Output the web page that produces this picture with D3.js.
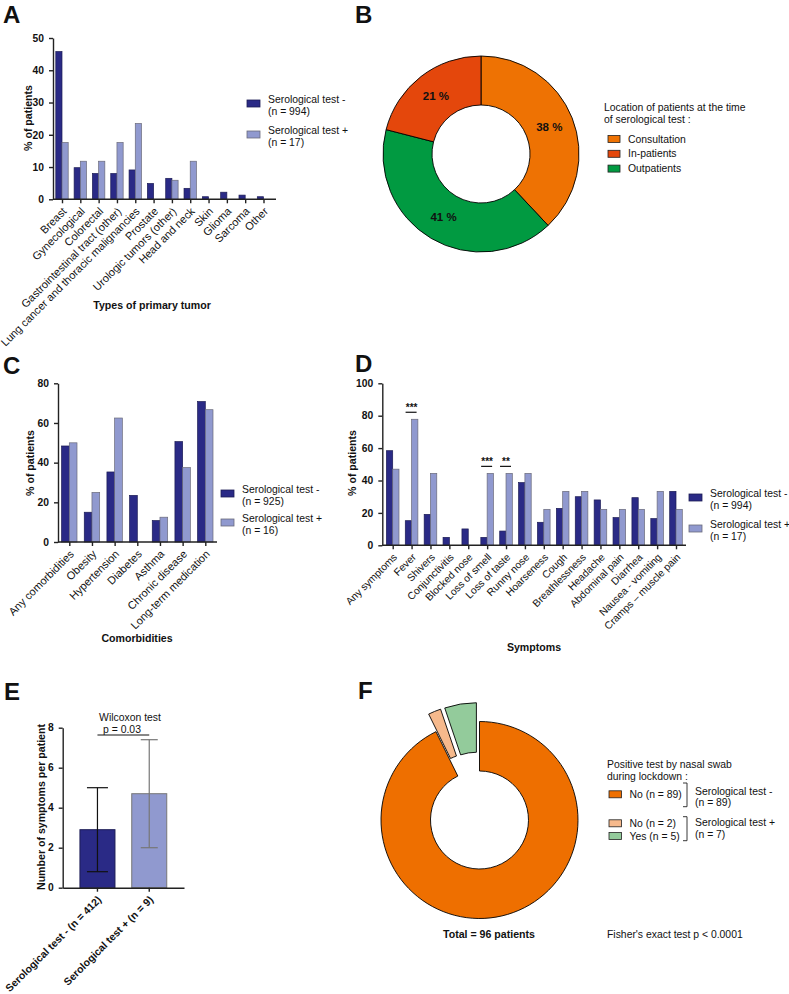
<!DOCTYPE html>
<html><head><meta charset="utf-8">
<script src="https://cdn.jsdelivr.net/npm/d3@7/dist/d3.min.js"></script>
<style>
body{margin:0;background:#fff}
svg text{font-family:"Liberation Sans",Arial,sans-serif;fill:#111}
</style>
</head><body>
<svg id="fig" width="789" height="994"></svg>
<script>
// ---------------- DATA ----------------
const seriesNames = ["Serological test -", "Serological test +"];

const tumorCats = ["Breast","Gynecological","Colorectal","Gastrointestinal tract (other)","Lung cancer and thoracic malignancies","Prostate","Urologic tumors (other)","Head and neck","Skin","Glioma","Sarcoma","Other"];
const tumorNeg = [45.8, 9.8, 8.0, 8.0, 9.1, 4.9, 6.5, 3.4, 0.8, 2.2, 1.3, 0.8];
const tumorPos = [17.6, 11.8, 11.8, 17.6, 23.5, 0, 5.9, 11.8, 0, 0, 0, 0];
const tumorN = ["(n = 994)", "(n = 17)"];
const tumorTicks = [0, 10, 20, 30, 40, 50];

const comorbCats = ["Any comorbidities","Obesity","Hypertension","Diabetes","Asthma","Chronic disease","Long-term medication"];
const comorbNeg = [48.4, 15.0, 35.3, 23.5, 10.8, 50.6, 70.8];
const comorbPos = [50.0, 25.0, 62.5, 0, 12.5, 37.5, 66.7];
const comorbN = ["(n = 925)", "(n = 16)"];
const comorbTicks = [0, 20, 40, 60, 80];

const symCats = ["Any symptoms","Fever","Shivers","Conjunctivitis","Blocked nose","Loss of smell","Loss of taste","Runny nose","Hoarseness","Cough","Breathlessness","Headache","Abdominal pain","Diarrhea","Nausea - vomiting","Cramps \u2013 muscle pain"];
const symNeg = [58.4, 15.2, 19.1, 4.9, 10.1, 4.9, 8.8, 38.7, 14.2, 22.8, 30.0, 28.0, 17.1, 29.4, 16.5, 33.3];
const symPos = [47.0, 77.8, 44.4, 0, 0, 44.4, 44.4, 44.4, 22.2, 33.3, 33.3, 22.2, 22.2, 22.2, 33.3, 22.2];
const symN = ["(n = 994)", "(n = 17)"];
const symTicks = [0, 20, 40, 60, 80, 100];
const sigCats = ["Fever", "Loss of smell", "Loss of taste"];
const sigLabels = ["***", "***", "**"];

const locLabels = ["Consultation", "Outpatients", "In-patients"];
const locValues = [38, 41, 21];
const locLegendOrder = ["Consultation", "In-patients", "Outpatients"];

const countGroups = ["Serological test - (n = 412)", "Serological test + (n = 9)"];
const countMeans = [2.9, 4.7];
const countLow = [0.8, 2.0];
const countHigh = [5.0, 7.4];
const countTicks = [0, 2, 4, 6, 8];

const swabLabels = ["No (n = 89)", "No (n = 2)", "Yes (n = 5)"];
const swabValues = [89, 2, 5];
const swabExploded = [false, true, true];
const swabGroups = [["Serological test -", "(n = 89)"], ["Serological test +", "(n = 7)"]];

// ---------------- STYLE ----------------
const C_DARK = "#2a2a86", C_LIGHT = "#9099cf";
const STROKE_DARK = "#1c1c55", STROKE_LIGHT = "#6a6a7a";
const locColors = {"Consultation":"#ee7203","In-patients":"#e4470c","Outpatients":"#019a41"};
const swabColors = ["#ee6f00", "#f6b98c", "#93cb9b"];
const AX = "#222";

const svg = d3.select("#fig");

function panelLetter(t, x, y){
  svg.append("text").attr("x", x).attr("y", y).attr("font-size", 24).attr("font-weight", "bold").text(t);
}

function styleAxis(g){
  g.selectAll(".domain").attr("stroke", AX).attr("stroke-width", 1.4);
  g.selectAll(".tick line").attr("stroke", AX).attr("stroke-width", 1.4);
}

function legend2(x, y, gap){
  const colors = [C_DARK, C_LIGHT], strokes = [STROKE_DARK, STROKE_LIGHT];
  return function(nLabels){
    nLabels.forEach((n, i) => {
      const g = svg.append("g").attr("transform", `translate(${x},${y + i*gap})`);
      g.append("rect").attr("x", 0).attr("y", -3.5).attr("width", 13).attr("height", 7)
        .attr("fill", colors[i]).attr("stroke", strokes[i]).attr("stroke-width", 0.8);
      g.append("text").attr("x", 21).attr("y", -4.5).attr("dy", "0.35em").attr("font-size", 10.4).text(seriesNames[i]);
      g.append("text").attr("x", 21).attr("y", 7.5).attr("dy", "0.35em").attr("font-size", 10.4).text(n);
    });
  };
}

function groupedBars(o){
  const x = d3.scalePoint().domain(o.cats).range(o.centers);
  const y = d3.scaleLinear().domain([0, o.ymax]).range(o.yRange);
  const g = svg.append("g");
  const data = o.cats.map((c, i) => ({c, a: o.neg[i], b: o.pos[i]}));
  g.selectAll("rect.neg").data(data).join("rect")
    .attr("x", d => x(d.c) - o.bw).attr("width", o.bw)
    .attr("y", d => y(d.a)).attr("height", d => y(0) - y(d.a))
    .attr("fill", C_DARK).attr("stroke", STROKE_DARK).attr("stroke-width", 0.7);
  g.selectAll("rect.pos").data(data.filter(d => d.b > 0)).join("rect")
    .attr("x", d => x(d.c)).attr("width", o.bw)
    .attr("y", d => y(d.b)).attr("height", d => y(0) - y(d.b))
    .attr("fill", C_LIGHT).attr("stroke", STROKE_LIGHT).attr("stroke-width", 0.7);
  const ya = g.append("g").attr("transform", `translate(${o.axisX[0]},0)`)
    .call(d3.axisLeft(y).tickValues(o.ticks).tickSize(4).tickSizeOuter(0).tickPadding(5));
  ya.selectAll("text").attr("font-size", 10.3).attr("font-weight", "bold").attr("fill", "#111");
  styleAxis(ya);
  const xa = g.append("g").attr("transform", `translate(0,${o.yRange[0]})`)
    .call(d3.axisBottom(x).tickSize(4).tickSizeOuter(0));
  xa.select(".domain").remove();
  xa.append("line").attr("x1", o.axisX[0]).attr("x2", o.axisX[1]).attr("stroke", AX).attr("stroke-width", 1.4);
  xa.selectAll(".tick line").attr("stroke", AX).attr("stroke-width", 1.4);
  xa.selectAll(".tick text")
    .attr("text-anchor", "end").attr("font-size", o.fs).attr("fill", "#111")
    .attr("x", 0).attr("y", 0).attr("dy", "0.35em")
    .attr("transform", `translate(2,10) rotate(-45)`);
  svg.append("text").attr("transform", `translate(${o.ylabX},${o.ylabY}) rotate(-90)`)
    .attr("text-anchor", "middle").attr("font-size", 10.6).attr("font-weight", "bold").text("% of patients");
  svg.append("text").attr("x", o.xtitle[1]).attr("y", o.xtitle[2]).attr("text-anchor", "middle")
    .attr("font-size", 10.6).attr("font-weight", "bold").text(o.xtitle[0]);
  return {x, y, g};
}

// ---------------- PANEL A ----------------
panelLetter("A", 3, 23);
groupedBars({cats: tumorCats, neg: tumorNeg, pos: tumorPos, centers: [62, 263.5], bw: 6.2,
  ymax: 50, yRange: [199.3, 38], ticks: tumorTicks, axisX: [53, 276], fs: 11,
  ylabX: 32, ylabY: 118, xtitle: ["Types of primary tumor", 152, 309]});
legend2(247, 103.5, 31)(tumorN);

// ---------------- PANEL B ----------------
panelLetter("B", 355, 23);
(function(){
  const cx = 481, cy = 154;
  const pie = d3.pie().sort(null).value(d => d.v);
  const arcs = pie(locLabels.map((l, i) => ({l, v: locValues[i]})));
  const arc = d3.arc().innerRadius(49).outerRadius(98);
  const lab = d3.arc().innerRadius(73.5).outerRadius(73.5);
  const g = svg.append("g").attr("transform", `translate(${cx},${cy})`);
  g.selectAll("path").data(arcs).join("path").attr("d", arc)
    .attr("fill", d => locColors[d.data.l]).attr("stroke", "#000").attr("stroke-width", 0.9);
  g.selectAll("text").data(arcs).join("text")
    .attr("transform", d => `translate(${lab.centroid(d)})`)
    .attr("text-anchor", "middle").attr("dy", "0.35em").attr("font-size", 11.5).attr("font-weight", "bold")
    .text(d => d.data.v + " %");
  const lg = svg.append("g").attr("transform", "translate(604,0)");
  lg.append("text").attr("x", 0).attr("y", 107).attr("dy", "0.35em").attr("font-size", 10.4).text("Location of patients at the time");
  lg.append("text").attr("x", 0).attr("y", 119).attr("dy", "0.35em").attr("font-size", 10.4).text("of serological test :");
  locLegendOrder.forEach((l, i) => {
    const yy = 139 + i * 14.8;
    lg.append("rect").attr("x", 4).attr("y", yy - 3.5).attr("width", 12).attr("height", 7)
      .attr("fill", locColors[l]).attr("stroke", "#222").attr("stroke-width", 0.8);
    lg.append("text").attr("x", 24).attr("y", yy).attr("dy", "0.35em").attr("font-size", 10.4).text(l);
  });
})();

// ---------------- PANEL C ----------------
panelLetter("C", 3, 374);
groupedBars({cats: comorbCats, neg: comorbNeg, pos: comorbPos, centers: [69.3, 205.3], bw: 7.7,
  ymax: 80, yRange: [542, 383.3], ticks: comorbTicks, axisX: [58, 217], fs: 11,
  ylabX: 34, ylabY: 463, xtitle: ["Comorbidities", 137, 642]});
legend2(221, 493.5, 29)(comorbN);

// ---------------- PANEL D ----------------
panelLetter("D", 355, 372);
(function(){
  const r = groupedBars({cats: symCats, neg: symNeg, pos: symPos, centers: [392.7, 676], bw: 6.3,
    ymax: 100, yRange: [545.3, 383.3], ticks: symTicks, axisX: [382.3, 686], fs: 10.3,
    ylabX: 356, ylabY: 463, xtitle: ["Symptoms", 534, 651]});
  sigCats.forEach((c, i) => {
    const idx = symCats.indexOf(c);
    const top = r.y(Math.max(symNeg[idx], symPos[idx])) - 7;
    const cx = r.x(c);
    svg.append("line").attr("x1", cx - 6).attr("x2", cx + 5).attr("y1", top).attr("y2", top)
      .attr("stroke", "#111").attr("stroke-width", 1.2);
    svg.append("text").attr("x", cx).attr("y", top - 1.5).attr("text-anchor", "middle")
      .attr("font-size", 10).attr("font-weight", "bold").text(sigLabels[i]);
  });
})();
legend2(689, 497.5, 31)(symN);

// ---------------- PANEL E ----------------
panelLetter("E", 4, 700);
(function(){
  const x = d3.scaleBand().domain(countGroups).range([62.7, 184]).paddingInner(0.324).paddingOuter(0.333);
  const y = d3.scaleLinear().domain([0, 8]).range([887.7, 727.7]);
  const g = svg.append("g");
  const fills = [C_DARK, C_LIGHT], strokes = [STROKE_DARK, "#777"], errC = ["#111", "#777"], capW = [10.5, 8.5];
  const data = countGroups.map((k, i) => ({k, m: countMeans[i], lo: countLow[i], hi: countHigh[i], i}));
  g.selectAll("rect").data(data).join("rect")
    .attr("x", d => x(d.k)).attr("width", x.bandwidth())
    .attr("y", d => y(d.m)).attr("height", d => y(0) - y(d.m))
    .attr("fill", d => fills[d.i]).attr("stroke", d => strokes[d.i]).attr("stroke-width", 1);
  data.forEach(d => {
    const cx = x(d.k) + x.bandwidth() / 2;
    const e = g.append("g").attr("stroke", errC[d.i]).attr("stroke-width", 1.2);
    e.append("line").attr("x1", cx).attr("x2", cx).attr("y1", y(d.lo)).attr("y2", y(d.hi));
    e.append("line").attr("x1", cx - capW[d.i]).attr("x2", cx + capW[d.i]).attr("y1", y(d.lo)).attr("y2", y(d.lo));
    e.append("line").attr("x1", cx - capW[d.i]).attr("x2", cx + capW[d.i]).attr("y1", y(d.hi)).attr("y2", y(d.hi));
  });
  const ya = g.append("g").attr("transform", "translate(62.7,0)")
    .call(d3.axisLeft(y).tickValues(countTicks).tickSize(4).tickSizeOuter(0).tickPadding(5));
  ya.selectAll("text").attr("font-size", 10.3).attr("font-weight", "bold").attr("fill", "#111");
  styleAxis(ya);
  const xa = g.append("g").attr("transform", "translate(0,887.7)")
    .call(d3.axisBottom(x).tickSize(4).tickSizeOuter(0));
  styleAxis(xa);
  xa.selectAll(".tick text").attr("text-anchor", "end").attr("font-size", 10.5).attr("font-weight", "bold")
    .attr("fill", "#111").attr("x", 0).attr("y", 0).attr("dy", "0.35em")
    .attr("transform", "translate(2,10) rotate(-45)");
  svg.append("text").attr("transform", "translate(45,807) rotate(-90)").attr("text-anchor", "middle")
    .attr("font-size", 10.6).attr("font-weight", "bold").text("Number of symptoms per patient");
  const c0 = x(countGroups[0]) + x.bandwidth() / 2, c1 = x(countGroups[1]) + x.bandwidth() / 2;
  svg.append("line").attr("x1", c0).attr("x2", c1).attr("y1", 735).attr("y2", 735).attr("stroke", "#111").attr("stroke-width", 1);
  svg.append("text").attr("x", 130).attr("y", 717).attr("dy", "0.35em").attr("text-anchor", "middle").attr("font-size", 10.4).text("Wilcoxon test");
  svg.append("text").attr("x", 122).attr("y", 729).attr("dy", "0.35em").attr("text-anchor", "middle").attr("font-size", 10.4).text("p = 0.03");
})();

// ---------------- PANEL F ----------------
panelLetter("F", 358, 699);
(function(){
  const cx = 479.5, cy = 820;
  const pie = d3.pie().sort(null).value(d => d.v);
  const arcs = pie(swabLabels.map((l, i) => ({l, v: swabValues[i], ex: swabExploded[i], i})));
  const arc = d3.arc().innerRadius(49).outerRadius(98.5);
  const g = svg.append("g").attr("transform", `translate(${cx},${cy})`);
  g.selectAll("path").data(arcs).join("path").attr("d", arc)
    .attr("transform", d => {
      if (!d.data.ex) return null;
      const a = (d.startAngle + d.endAngle) / 2, off = 19;
      return `translate(${off * Math.sin(a)},${-off * Math.cos(a)})`;
    })
    .attr("fill", d => swabColors[d.data.i]).attr("stroke", "#000").attr("stroke-width", 0.9);
  const lg = svg.append("g").attr("transform", "translate(607,0)");
  lg.append("text").attr("x", 0).attr("y", 764).attr("dy", "0.35em").attr("font-size", 10.4).text("Positive test by nasal swab");
  lg.append("text").attr("x", 0).attr("y", 776).attr("dy", "0.35em").attr("font-size", 10.4).text("during lockdown :");
  const itemY = [794.3, 823.3, 836];
  swabLabels.forEach((l, i) => {
    lg.append("rect").attr("x", 2).attr("y", itemY[i] - 3.5).attr("width", 12.5).attr("height", 7)
      .attr("fill", swabColors[i]).attr("stroke", "#222").attr("stroke-width", 0.8);
    lg.append("text").attr("x", 22.5).attr("y", itemY[i]).attr("dy", "0.35em").attr("font-size", 10.4).text(l);
  });
  const br = [[783, 806.7, 791], [816.7, 840.7, 822.7]];
  br.forEach((b, i) => {
    lg.append("path").attr("d", `M76,${b[0]}H80V${b[1]}H76`).attr("fill", "none").attr("stroke", "#222").attr("stroke-width", 0.9);
    lg.append("text").attr("x", 88).attr("y", b[2]).attr("dy", "0.35em").attr("font-size", 10.4).text(swabGroups[i][0]);
    lg.append("text").attr("x", 88).attr("y", b[2] + 11.5).attr("dy", "0.35em").attr("font-size", 10.4).text(swabGroups[i][1]);
  });
  svg.append("text").attr("x", 489).attr("y", 934).attr("dy", "0.35em").attr("text-anchor", "middle")
    .attr("font-size", 10.6).attr("font-weight", "bold").text("Total = 96 patients");
  svg.append("text").attr("x", 607).attr("y", 934).attr("dy", "0.35em")
    .attr("font-size", 10.4).text("Fisher's exact test p < 0.0001");
})();
</script>
</body></html>
